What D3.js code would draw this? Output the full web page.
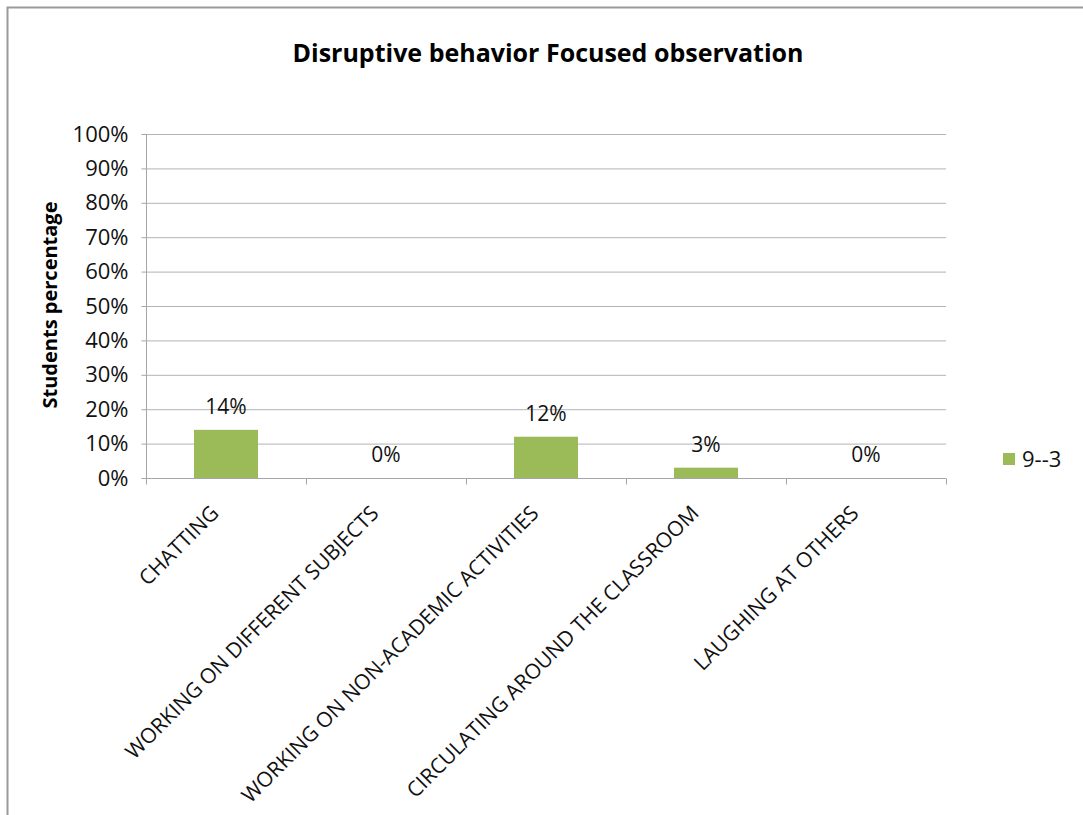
<!DOCTYPE html>
<html><head><meta charset="utf-8">
<script src="https://cdn.jsdelivr.net/npm/d3@7"></script>
<style>html,body{margin:0;padding:0;background:#fff;}svg{display:block;}</style>
</head><body>
<script>
const categories = ["CHATTING","WORKING ON DIFFERENT SUBJECTS","WORKING ON NON-ACADEMIC ACTIVITIES","CIRCULATING AROUND THE CLASSROOM","LAUGHING AT OTHERS"];
const values = [14, 0, 12, 3, 0];
const yTicks = [0,10,20,30,40,50,60,70,80,90,100];
const seriesName = "9--3";
const title = "Disruptive behavior Focused observation";
const yTitle = "Students percentage";

const W = 1083, H = 815;
const font = "Open Sans, Lato, sans-serif";
const svg = d3.select("body").append("svg").attr("width", W).attr("height", H);
svg.append("rect").attr("x",0).attr("y",0).attr("width",W).attr("height",H).attr("fill","#fff");
// outer border (extends beyond the visible area on right/bottom)
svg.append("path").attr("d","M7.5,830 V7.5 H1100").attr("fill","none").attr("stroke","#9a9a9a").attr("stroke-width",2);

const x0 = 146, x1 = 946, yTop = 134, yBot = 478;
const x = d3.scaleBand().domain(categories).range([x0, x1]).paddingInner(0).paddingOuter(0);
const y = d3.scaleLinear().domain([0,100]).range([yBot, yTop]);

// gridlines
svg.append("g").selectAll("line").data(yTicks.filter(d=>d>0)).join("line")
  .attr("x1", x0).attr("x2", x1).attr("y1", d=>y(d)+0.5).attr("y2", d=>y(d)+0.5)
  .attr("stroke","#b3b3b3").attr("stroke-width",1);

// y axis
const yAxis = d3.axisLeft(y).tickValues(yTicks).tickFormat(d=>d+"%").tickSize(5).tickPadding(13);
const gy = svg.append("g").attr("transform",`translate(${x0+0.5},0)`).call(yAxis);
gy.select(".domain").attr("stroke","#a6a6a6").attr("d",`M0,${yTop}V${yBot+0.5}`);
gy.selectAll(".tick line").attr("stroke","#a6a6a6");
gy.selectAll(".tick text").attr("font-family",font).attr("font-size",22).attr("fill","#111");

// x axis
const gx = svg.append("g").attr("transform",`translate(0,${yBot+0.5})`);
gx.append("line").attr("x1",x0).attr("x2",x1).attr("stroke","#a6a6a6");
gx.selectAll("line.tk").data(d3.range(categories.length+1)).join("line").attr("class","tk")
  .attr("x1",i=>x0+i*x.bandwidth()+0.5).attr("x2",i=>x0+i*x.bandwidth()+0.5)
  .attr("y1",0).attr("y2",6).attr("stroke","#a6a6a6");
gx.selectAll("text").data(categories).join("text")
  .attr("transform", d=>`translate(${x(d)+x.bandwidth()/2-6},${36}) rotate(-45)`)
  .attr("text-anchor","end").attr("font-family",font).attr("font-size",21).attr("fill","#111")
  .text(d=>d);

// bars
const bw = x.bandwidth()*0.4;
svg.append("g").selectAll("rect").data(values).join("rect")
  .attr("x",(d,i)=>x(categories[i])+(x.bandwidth()-bw)/2)
  .attr("width",bw)
  .attr("y",d=>y(d)).attr("height",d=>yBot-y(d))
  .attr("fill","#9BBB59");

// data labels
svg.append("g").selectAll("text").data(values).join("text")
  .attr("x",(d,i)=>x(categories[i])+x.bandwidth()/2)
  .attr("y",d=>y(d)-16)
  .attr("text-anchor","middle").attr("font-family",font).attr("font-size",21).attr("fill","#111")
  .text(d=>d+"%");

// title
svg.append("text").attr("x",548).attr("y",62).attr("text-anchor","middle")
  .attr("font-family",font).attr("font-weight","bold").attr("font-size",25).attr("fill","#000").text(title);

// y title
svg.append("text").attr("transform","translate(57,305) rotate(-90)").attr("text-anchor","middle")
  .attr("font-family",font).attr("font-weight","bold").attr("font-size",20).attr("fill","#000").text(yTitle);

// legend
svg.append("rect").attr("x",1003).attr("y",453).attr("width",12).attr("height",12).attr("fill","#9BBB59");
svg.append("text").attr("x",1022).attr("y",467).attr("font-family",font).attr("font-size",22).attr("fill","#111").text(seriesName);
</script>
</body></html>
